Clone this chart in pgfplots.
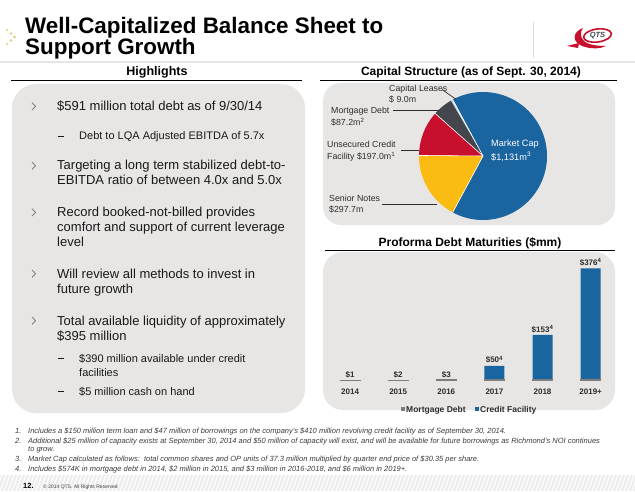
\documentclass[border=0pt]{standalone}
\usepackage{fontspec}
\setmainfont{Liberation Sans}
\usepackage{pgfplots}
\usepackage{pgfplotstable}
\pgfplotsset{compat=1.18}

\definecolor{mcblue}{RGB}{26,100,160}
\definecolor{qred}{RGB}{200,16,46}
\definecolor{qyellow}{RGB}{250,188,18}
\definecolor{qslate}{RGB}{68,70,78}
\definecolor{qlease}{RGB}{205,222,236}
\definecolor{mortgray}{RGB}{125,125,125}
\definecolor{panel}{RGB}{231,230,228}
\definecolor{txt}{RGB}{25,25,25}
\definecolor{lab}{RGB}{45,45,45}
\definecolor{chev}{RGB}{130,130,130}
\definecolor{gold}{RGB}{226,190,100}
\definecolor{fnote}{RGB}{60,60,60}

\newcommand{\fs}[2]{\fontsize{#1}{#2}\selectfont}

\pgfplotstableread{
label val
MarketCap 1131
Leases 9.0
Mortgage 87.2
Unsecured 197.0
Senior 297.7
}\pietbl

\pgfplotstableread{
x mort credit total lab
0 0.574 0 0.574 {\$1}
1 2 0 2 {\$2}
2 3 0 3 {\$3}
3 3 47 50 {\$50\textsuperscript{4}}
4 3 150 153 {\$153\textsuperscript{4}}
5 6 370 376 {\$376\textsuperscript{4}}
}\bartbl

\begin{document}
\begin{tikzpicture}
\begin{scope}[x=1pt,y=1pt,t/.style={inner sep=0pt,anchor=base west}]
\useasboundingbox (0,0) rectangle (635,491);
\fill[white] (0,0) rectangle (635,491);

% ---- header
\foreach \px/\py/\op in {7/461/60,11/457.5/80,14.5/454/100,11/450.5/80,7/447/60}
  \fill[gold!\op!white] (\px,\py) circle (1.3);
\node[t,font=\bfseries\fs{22.4}{21},text=black] at (25,457) {Well-Capitalized Balance Sheet to};
\node[t,font=\bfseries\fs{22.4}{21},text=black] at (25,436) {Support Growth};
\draw[gray!30,line width=0.6pt] (533,469) -- (533,433);
\draw[gray!20,line width=1.4pt] (0,429) -- (635,429);
% logo
\fill[qred] (583,463) .. controls (572,459) and (571,448) .. (585,444)
  .. controls (592,442) and (600,442) .. (606,445)
  .. controls (598,445) and (588,446) .. (584,450)
  .. controls (580,454) and (580,459) .. (583,463) -- cycle;
\fill[qred] (567,445) -- (579,448) -- (578,443) -- cycle;
\draw[qred,line width=1.6pt,fill=white,rotate around={8:(597.5,455.5)}] (597.5,455.5) ellipse (14 and 6.5);
\node[font=\bfseries\itshape\fs{7.5}{8},text=qslate,inner sep=0pt] at (597.5,455.5) {QTS};

% ---- section headings
\node[font=\bfseries\fs{12.5}{14},text=black,inner sep=0pt,anchor=base] at (157,415) {Highlights};
\draw[black,line width=1pt] (11,410) -- (302,410);
\node[font=\bfseries\fs{12}{14},text=black,inner sep=0pt,anchor=base] at (471,415) {Capital Structure (as of Sept. 30, 2014)};
\draw[black,line width=1pt] (320,410) -- (617,410);
\node[font=\bfseries\fs{12}{14},text=black,inner sep=0pt,anchor=base] at (470,244.3) {Proforma Debt Maturities (\$mm)};
\draw[black,line width=1pt] (325,241) -- (615,241);

% ---- panels
\fill[panel,rounded corners=24pt] (12,78) rectangle (305,407);
\fill[panel,rounded corners=18pt] (323,266) rectangle (615,408);
\fill[panel,rounded corners=20pt] (323,81) rectangle (615,239);

% ---- highlights text
\begin{scope}[every node/.style={t,text=txt}]
\node[font=\fs{13}{15}] at (57,380.3) {\$591 million total debt as of 9/30/14};
\node[font=\fs{11}{13}] at (79,351) {Debt to LQA Adjusted EBITDA of 5.7x};
\node[font=\fs{13}{15}] at (57,321) {Targeting a long term stabilized debt-to-};
\node[font=\fs{13}{15}] at (57,306) {EBITDA ratio of between 4.0x and 5.0x};
\node[font=\fs{13}{15}] at (57,274.3) {Record booked-not-billed provides};
\node[font=\fs{13}{15}] at (57,259.3) {comfort and support of current leverage};
\node[font=\fs{13}{15}] at (57,244.3) {level};
\node[font=\fs{13}{15}] at (57,213) {Will review all methods to invest in};
\node[font=\fs{13}{15}] at (57,198) {future growth};
\node[font=\fs{13}{15}] at (57,166) {Total available liquidity of approximately};
\node[font=\fs{13}{15}] at (57,150.3) {\$395 million};
\node[font=\fs{11}{13}] at (79,129) {\$390 million available under credit};
\node[font=\fs{11}{13}] at (79,115) {facilities};
\node[font=\fs{11}{13}] at (79,96) {\$5 million cash on hand};
\end{scope}
\foreach \yy in {380.3,321,274.3,213,166}
  \draw[chev,line width=0.9pt] (32,\yy+8) -- (35.5,\yy+4.3) -- (32,\yy+0.6);
\foreach \yy in {351,129,96}
  \draw[txt,line width=0.7pt] (58,\yy+3.6) -- (64,\yy+3.6);
\end{scope}

% ---- pie chart
\pgfplotstablegetelem{0}{val}\of\pietbl \edef\vA{\pgfplotsretval}
\pgfplotstablegetelem{1}{val}\of\pietbl \edef\vB{\pgfplotsretval}
\pgfplotstablegetelem{2}{val}\of\pietbl \edef\vC{\pgfplotsretval}
\pgfplotstablegetelem{3}{val}\of\pietbl \edef\vD{\pgfplotsretval}
\pgfplotstablegetelem{4}{val}\of\pietbl \edef\vE{\pgfplotsretval}
\pgfmathsetmacro\tot{\vA+\vB+\vC+\vD+\vE}
\pgfmathsetmacro\fA{\vA/\tot}
\pgfmathsetmacro\fB{\vB/\tot}
\pgfmathsetmacro\fC{\vC/\tot}
\pgfmathsetmacro\fD{\vD/\tot}
\pgfmathsetmacro\fE{\vE/\tot}
\pgfmathsetmacro\aA{-180*\fA}
\pgfmathsetmacro\aB{\aA+360*\fA}
\pgfmathsetmacro\aC{\aB+360*\fB}
\pgfmathsetmacro\aD{\aC+360*\fC}
\pgfmathsetmacro\aE{\aD+360*\fD}
\pgfmathsetmacro\aF{\aE+360*\fE}
\begin{axis}[at={(419pt,271pt)},anchor=south west,scale only axis,width=128pt,height=128pt,
  xmin=-1,xmax=1,ymin=-1,ymax=1,hide axis,clip=false]
\fill[mcblue] (axis cs:0,0) -- (axis cs:{cos(\aA)},{sin(\aA)}) arc[start angle=\aA,end angle=\aB,radius=64pt] -- cycle;
\fill[qlease] (axis cs:0,0) -- (axis cs:{cos(\aB)},{sin(\aB)}) arc[start angle=\aB,end angle=\aC,radius=64pt] -- cycle;
\fill[qslate] (axis cs:0,0) -- (axis cs:{cos(\aC)},{sin(\aC)}) arc[start angle=\aC,end angle=\aD,radius=64pt] -- cycle;
\fill[qred] (axis cs:0,0) -- (axis cs:{cos(\aD)},{sin(\aD)}) arc[start angle=\aD,end angle=\aE,radius=64pt] -- cycle;
\fill[qyellow] (axis cs:0,0) -- (axis cs:{cos(\aE)},{sin(\aE)}) arc[start angle=\aE,end angle=\aF,radius=64pt] -- cycle;
\draw[white,line width=0.6pt] (axis cs:0,0) -- (axis cs:{cos(\aA)},{sin(\aA)});
\draw[white,line width=0.6pt] (axis cs:0,0) -- (axis cs:{cos(\aB)},{sin(\aB)});
\draw[white,line width=0.6pt] (axis cs:0,0) -- (axis cs:{cos(\aD)},{sin(\aD)});
\draw[white,line width=0.6pt] (axis cs:0,0) -- (axis cs:{cos(\aE)},{sin(\aE)});
\end{axis}

% ---- bar chart
\begin{axis}[at={(326pt,110.3pt)},anchor=south west,scale only axis,width=288.7pt,height=125.7pt,
  xmin=-0.5,xmax=5.5,ymin=0,ymax=420.5,ybar stacked,bar width=20pt,
  axis line style={draw=none},ytick=\empty,xtick={0,1,2,3,4,5},
  xticklabels={2014,2015,2016,2017,2018,2019+},major tick length=0pt,
  xticklabel style={font=\bfseries\fs{8}{9},text=lab,anchor=base,yshift=-13.3pt,inner sep=0pt},
  clip=false]
\addplot[fill=mortgray,draw=mortgray,line width=0.7pt] table[x=x,y=mort]{\bartbl};
\addplot[fill=mcblue,draw=none] table[x=x,y=credit]{\bartbl};
\end{axis}
% value labels (totals) on an overlaid axis with the same geometry
\begin{axis}[at={(326pt,110.3pt)},anchor=south west,scale only axis,width=288.7pt,height=125.7pt,
  xmin=-0.5,xmax=5.5,ymin=0,ymax=420.5,hide axis,clip=false]
\addplot[draw=none,mark=none,nodes near coords,point meta=explicit symbolic,
  every node near coord/.append style={font=\bfseries\fs{8}{9},text=lab,anchor=base,yshift=2.8pt,inner sep=0pt}]
  table[x=x,y=total,meta=lab]{\bartbl};
\end{axis}

\begin{scope}[x=1pt,y=1pt,t/.style={inner sep=0pt,anchor=base west}]
% pie labels
\begin{scope}[every node/.style={t,text=lab,font=\fs{8.8}{10}}]
\node at (389,399) {Capital Leases};
\node at (389,388) {\$ 9.0m};
\node at (331,377) {Mortgage Debt};
\node at (331,365) {\$87.2m\textsuperscript{2}};
\node at (327,343) {Unsecured Credit};
\node at (327,331) {Facility \$197.0m\textsuperscript{1}};
\node at (329,289.3) {Senior Notes};
\node at (329,278) {\$297.7m};
\node[text=white,font=\fs{9.2}{10}] at (491,344) {Market Cap};
\node[text=white,font=\fs{9.2}{10}] at (491,330.3) {\$1,131m\textsuperscript{3}};
\end{scope}
\draw[lab,line width=0.7pt] (442,401.5) -- (456,391.7);
\draw[lab,line width=0.7pt] (393,381) -- (438.5,381);
\draw[lab,line width=0.7pt] (401,341) -- (418.5,341);
\draw[lab,line width=0.7pt] (382,286.7) -- (437,286.7);

% legend
\fill[mortgray] (400.5,79.7) rectangle (405,84.3);
\node[t,font=\bfseries\fs{8.5}{10},text=lab] at (406,79) {Mortgage Debt};
\fill[mcblue] (474.5,79.7) rectangle (479,84.3);
\node[t,font=\bfseries\fs{8.5}{10},text=lab] at (480,79) {Credit Facility};

% ---- footnotes
\begin{scope}[every node/.style={t,text=fnote,font=\itshape\fs{7.5}{8}}]
\node at (15,57.5) {1.};
\node at (28,57.5) {Includes a \$150 million term loan and \$47 million of borrowings on the company's \$410 million revolving credit facility as of September 30, 2014.};
\node at (15,48) {2.};
\node at (28,48) {Additional \$25 million of capacity exists at September 30, 2014 and \$50 million of capacity will exist, and will be available for future borrowings as Richmond's NOI continues};
\node at (28,39.5) {to grow.};
\node at (15,29.5) {3.};
\node at (28,29.5) {Market Cap calculated as follows:\ \ total common shares and OP units of 37.3 million multiplied by quarter end price of \$30.35 per share.};
\node at (15,20) {4.};
\node at (28,20) {Includes \$574K in mortgage debt in 2014, \$2 million in 2015, and \$3 million in 2016-2018, and \$6 million in 2019+.};
\end{scope}

% ---- footer
\begin{scope}
\clip (0,0) rectangle (635,16);
\fill[gray!13] (0,0) rectangle (635,16);
\foreach \i in {-20,-16,...,640} \draw[white,line width=1.1pt] (\i,0) -- (\i+6,16);
\end{scope}
\node[t,font=\bfseries\fs{7.5}{8},text=black] at (23,2.5) {12.};
\node[t,font=\fs{5}{6},text=fnote] at (43,2.5) {\textcopyright{} 2014 QTS. All Rights Reserved};
\end{scope}
\end{tikzpicture}
\end{document}
